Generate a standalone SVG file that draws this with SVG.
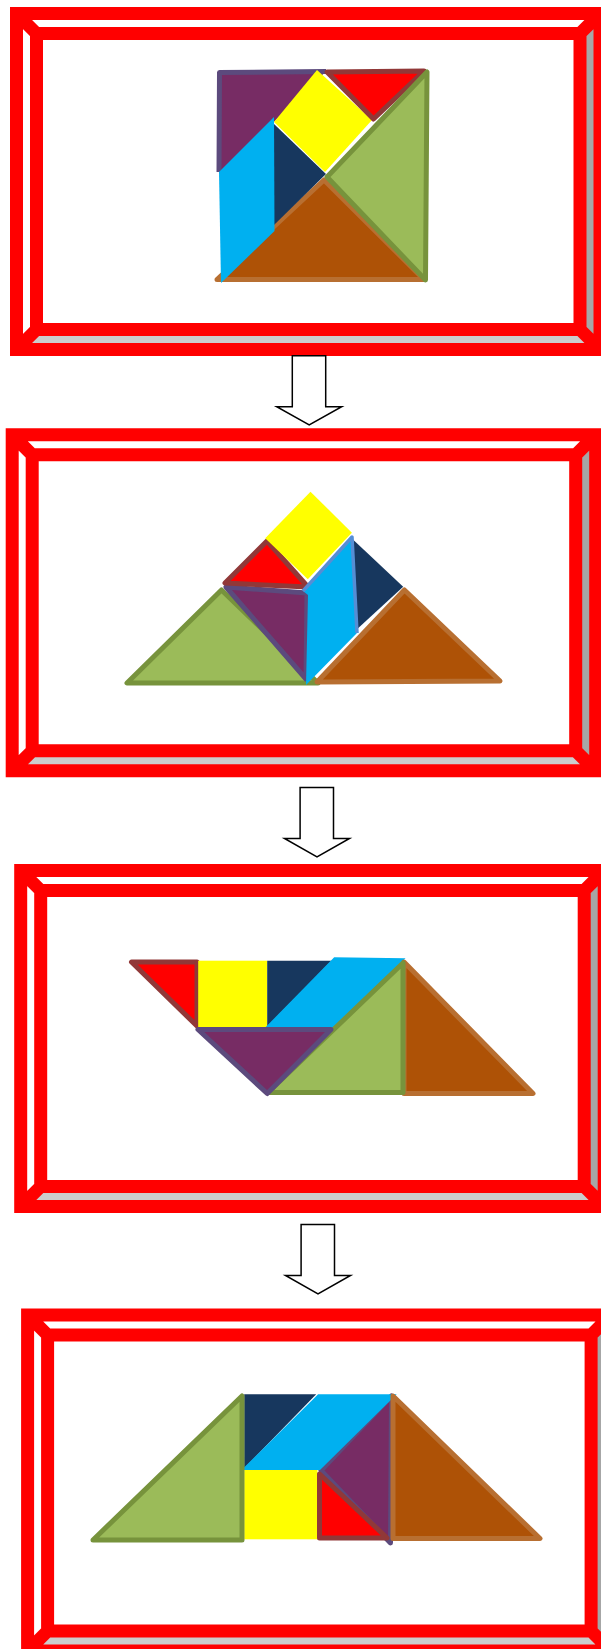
<svg xmlns="http://www.w3.org/2000/svg" xmlns:xlink="http://www.w3.org/1999/xlink" width="601" height="1649" viewBox="0 0 601 1649">
<style>
.fw{fill:#ffffff}
.fr{fill:#a6a6a6}
.fb{fill:#cccccc}
.fs{fill:none;stroke:#ff0000;stroke-width:13;stroke-linejoin:miter}
.pur{fill:#772c64;stroke:#5c4a7d;stroke-width:5;stroke-linejoin:round}
.purf{fill:#772c64}
.purl{fill:none;stroke:#5c4a7d;stroke-width:5;stroke-linejoin:round}
.red{fill:#ff0000;stroke:#913838;stroke-width:5;stroke-linejoin:round}
.grn{fill:#9bbb59;stroke:#77933c;stroke-width:5;stroke-linejoin:round}
.brn{fill:#ae5206;stroke:#b86f31;stroke-width:5;stroke-linejoin:round}
.yel{fill:#ffff00}
.nav{fill:#17375e}
.cya{fill:#00b0f0}
.cyl{fill:none;stroke:#558ed5;stroke-width:3.5;stroke-linejoin:round}
.arr{fill:#ffffff;stroke:#000000;stroke-width:1.5;stroke-linejoin:miter}
</style>
<defs>
<g id="bevel">
<rect class="fw" x="20" y="20" width="543.5" height="296"/>
<polygon class="fw" points="0,0 583.5,0 563.5,20 20,20"/>
<polygon class="fw" points="0,0 20,20 20,316 0,336"/>
<polygon class="fr" points="583.5,0 583.5,336 563.5,316 563.5,20"/>
<polygon class="fb" points="0,336 20,316 563.5,316 583.5,336"/>
<path class="fs" d="M0,0 H583.5 V336 H0 Z M20,20 H563.5 V316 H20 Z M0,0 L20,20 M583.5,0 L563.5,20 M583.5,336 L563.5,316 M0,336 L20,316"/>
</g>
</defs>
<rect x="0" y="0" width="601" height="1649" fill="#ffffff"/>

<g id="panel1">
<use xlink:href="#bevel" href="#bevel" transform="translate(16.5,13.5)"/>
<polygon class="purf" points="219.5,72.5 326,71.5 300,95 274,122 219,174"/>
<polyline class="purl" points="219,172 219.5,72.5 326,71.5"/>
<polygon class="brn" points="324,180 424,279.5 217,279.5"/>
<polygon class="nav" points="274,124 326,174 274,225"/>
<polygon class="yel" points="317,70 372,120 325,172 274,122"/>
<polygon class="red" points="327,72 424,71 373.5,119"/>
<polygon class="grn" points="427,72 425.5,280 327,177"/>
<polygon class="cya" points="274,117 274.5,231 221,283 219,172"/>
</g>

<g id="panel2">
<use xlink:href="#bevel" href="#bevel" transform="translate(12.2,434.8)"/>
<polygon class="grn" points="221.5,590 127,683 318,683"/>
<polygon class="pur" points="226,587 307,593 306,679"/>
<polygon class="red" points="267,541 225,583 308,587"/>
<polygon class="yel" points="310.5,491.7 351.9,532.7 307.8,579.3 265.2,538.3"/>
<polygon class="nav" points="350,536.7 403.2,586.7 352.6,633.3"/>
<polygon class="cya" points="352,537 357,633 306,685 308,595 303,591"/>
<polyline class="cyl" points="303,591 352,537 357,633"/>
<polygon class="brn" points="404.4,590 500,681 317,682"/>
</g>

<g id="panel3">
<use xlink:href="#bevel" href="#bevel" transform="translate(20.7,870.5)"/>
<polygon class="red" points="131.5,962 197,962 197,1026"/>
<rect class="yel" x="198.2" y="960.7" width="69" height="67.6"/>
<polygon class="nav" points="267.2,960.7 331.5,960.7 265.5,1028.3 267.2,1028.3"/>
<polygon class="cya" points="334.2,957.3 405.5,958.3 333.5,1028.3 264.5,1028.3"/>
<polygon class="brn" points="404,962 533,1093.5 404,1093.5"/>
<polygon class="grn" points="403,963 403,1092.5 268,1092.5"/>
<polygon class="pur" points="198,1029.5 331,1029.5 267.2,1093.5"/>
</g>

<g id="panel4">
<use xlink:href="#bevel" href="#bevel" transform="translate(27.6,1315)"/>
<polygon class="nav" points="244.2,1394.3 316.2,1394.3 244.2,1468.3"/>
<rect class="yel" x="244.2" y="1470" width="73.2" height="69.3"/>
<polygon class="pur" points="391.5,1396 390.5,1543 321,1470.5"/>
<polygon class="red" points="319.5,1474 387,1538 319.5,1538"/>
<polygon class="cya" points="318.1,1394.3 396.7,1394.3 320,1470 241.5,1470"/>
<polygon class="brn" points="393,1396 540,1538.5 393,1538.5"/>
<polygon class="grn" points="242,1396 242,1540 93,1540"/>
</g>

<g id="connectors">
<path class="arr" d="M292.3,355.7 H325.7 V406.7 H341.7 L309.2,425 L276.7,406.7 H292.3 Z"/>
<path class="arr" transform="translate(7.8,431.8)" d="M292.3,355.7 H325.7 V406.7 H341.7 L309.2,425 L276.7,406.7 H292.3 Z"/>
<path class="arr" transform="translate(8.8,868.8)" d="M292.3,355.7 H325.7 V406.7 H341.7 L309.2,425 L276.7,406.7 H292.3 Z"/>
</g>
</svg>
